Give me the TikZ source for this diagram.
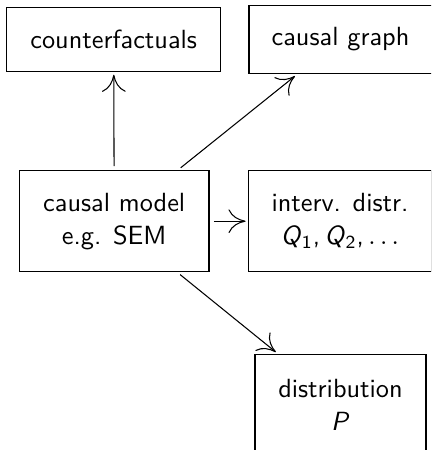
\documentclass[tikz,border=0pt]{standalone}
\usetikzlibrary{arrows.meta}
\begin{document}
\begin{tikzpicture}[x=0.3802pt,y=-0.3802pt,
  box/.style={draw,line width=0.4pt,align=center,inner sep=0pt,
    font=\sffamily\fontsize{10}{12.5}\selectfont},
  arr/.style={line width=0.4pt,-{To[length=6.5pt,width=9pt]},shorten <=1.6pt,shorten >=1pt}]
\clip (0,0) rectangle (431,450);
\fill[white] (0,0) rectangle (431,450);
\node[box,minimum width=81.5pt,minimum height=24.4pt] (cf) at (113.7,39.5) {counterfactuals};
\node[box,minimum width=69.6pt,minimum height=26.2pt] (cg) at (340.5,39.5) {causal graph};
\node[box,minimum width=72.1pt,minimum height=38.2pt] (cm) at (114.2,221.2) {causal model\\e.g. SEM};
\node[box,minimum width=69.4pt,minimum height=38.2pt] (iv) at (340,221.2) {interv. distr.\\\textsl{Q}\textsubscript{1},\,\textsl{Q}\textsubscript{2},\,$\ldots$};
\node[box,minimum width=65pt,minimum height=38.2pt] (ds) at (340.5,404.5) {distribution\\\textsl{P}};
\draw[arr] (cm) -- (cf);
\draw[arr] (cm) -- (cg);
\draw[arr] (cm) -- (iv);
\draw[arr] (cm) -- (ds);
\end{tikzpicture}
\end{document}
